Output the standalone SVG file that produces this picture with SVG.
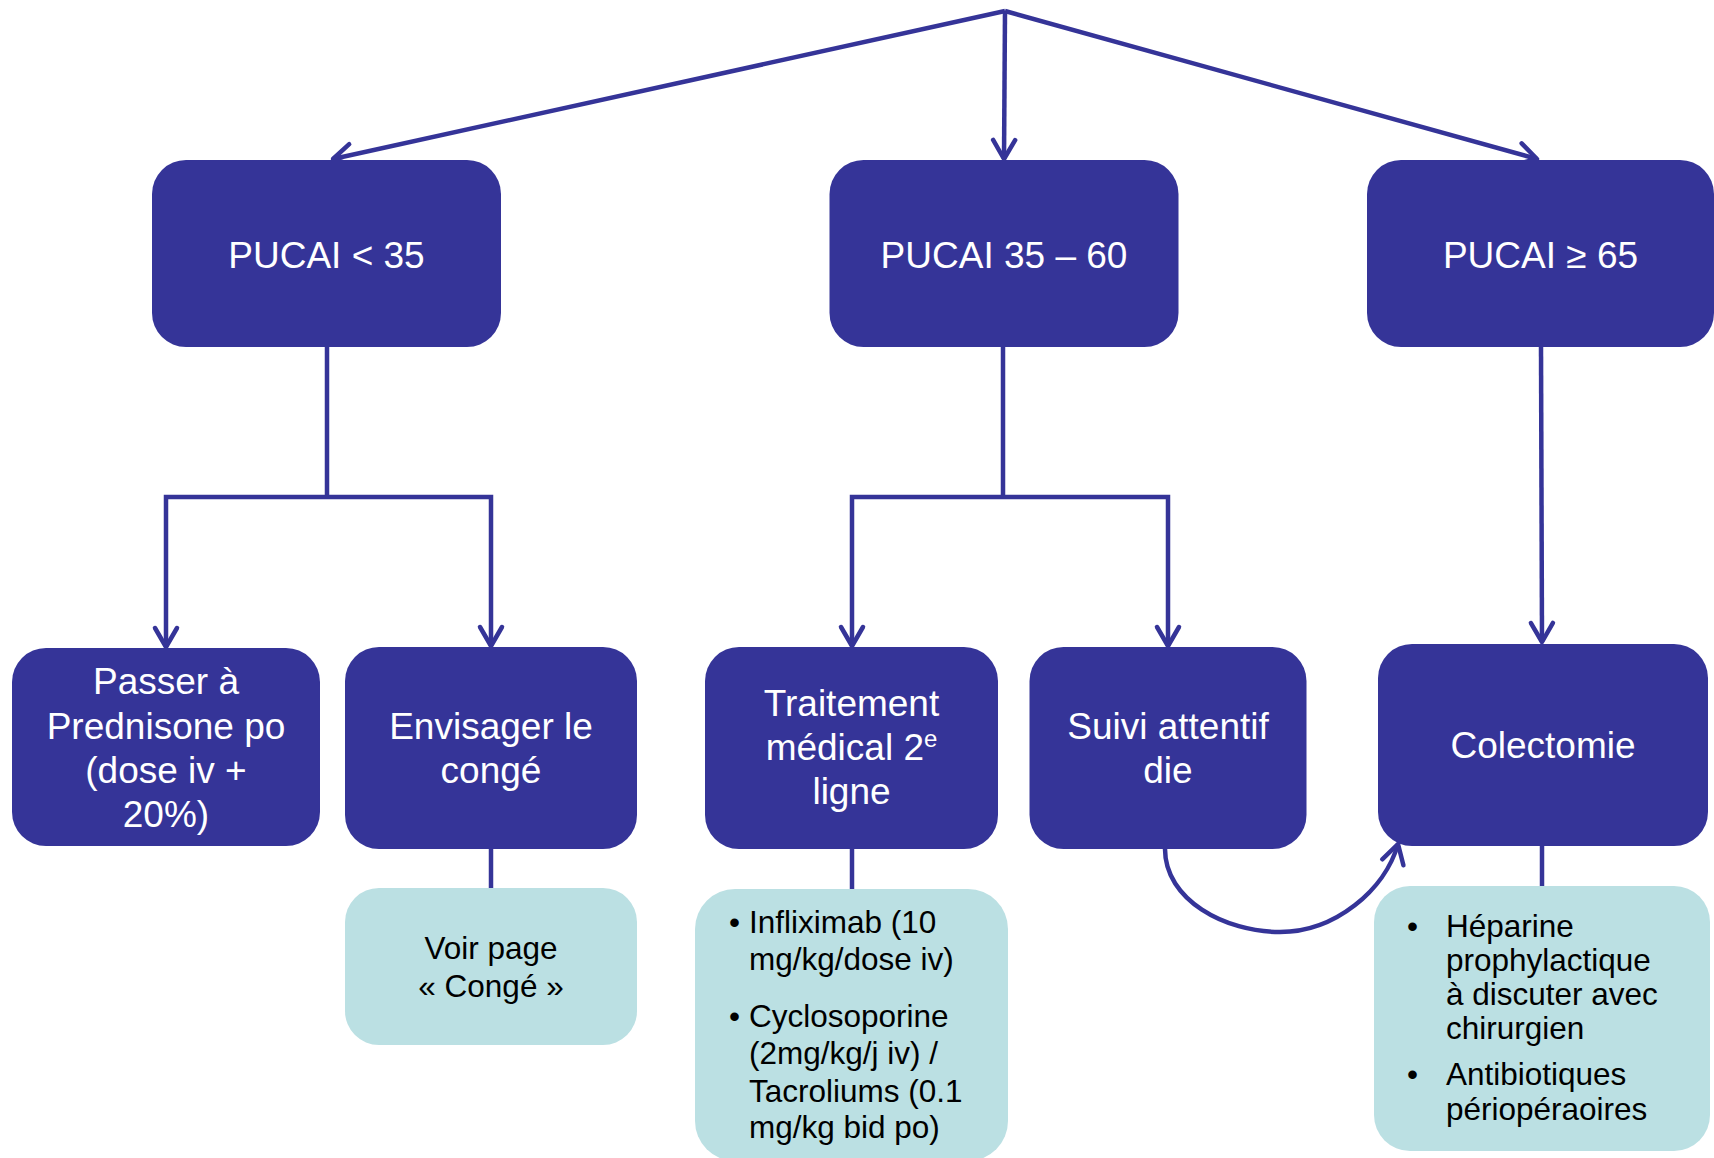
<svg xmlns="http://www.w3.org/2000/svg" width="1714" height="1158" viewBox="0 0 1714 1158">
  <style>
    .dark { fill: #353498; }
    .light { fill: #BBE0E3; }
    .wt { font-family: "Liberation Sans", Arial, sans-serif; font-size: 37px; fill: #ffffff; text-anchor: middle; }
    .bk { font-family: "Liberation Sans", Arial, sans-serif; font-size: 31.5px; fill: #000000; }
    .bkc { text-anchor: middle; }
    .link { fill: none; stroke: #353498; stroke-width: 4.5; }
    .arrow { marker-end: url(#chev); }
  </style>
  <defs>
    <marker id="chev" markerUnits="userSpaceOnUse" markerWidth="30" markerHeight="30" viewBox="-25 -15 30 30" refX="0" refY="0" orient="auto">
      <path d="M-19,-11 L0,0 L-19,11" fill="none" stroke="#353498" stroke-width="4.5" stroke-linecap="round" stroke-linejoin="round"/>
    </marker>
  </defs>

  <!-- connectors -->
  <g id="connectors">
    <line class="link arrow" x1="1005" y1="11" x2="333" y2="159"/>
    <line class="link arrow" x1="1005" y1="11" x2="1004" y2="159"/>
    <line class="link arrow" x1="1005" y1="11" x2="1537" y2="159"/>

    <polyline class="link" points="327,347 327,497"/>
    <polyline class="link arrow" points="327,497 166,497 166,647"/>
    <polyline class="link arrow" points="327,497 491,497 491,646"/>

    <polyline class="link" points="1003,347 1003,497"/>
    <polyline class="link arrow" points="1003,497 852,497 852,646"/>
    <polyline class="link arrow" points="1003,497 1168,497 1168,646"/>

    <line class="link arrow" x1="1541" y1="347" x2="1542" y2="642"/>

    <line class="link" x1="491" y1="849" x2="491" y2="888"/>
    <line class="link" x1="852" y1="849" x2="852" y2="889"/>
    <line class="link" x1="1542" y1="846" x2="1542" y2="886"/>

    <path class="link arrow" d="M1165,849 C1165,900 1225,932 1280,932 C1335,932 1385,890 1398,844"/>
  </g>

  <!-- severity level boxes -->
  <g id="pucai-low">
    <rect class="dark" x="152" y="160" width="349" height="187" rx="34"/>
    <text class="wt" x="326.5" y="268">PUCAI &lt; 35</text>
  </g>
  <g id="pucai-mid">
    <rect class="dark" x="829.5" y="160" width="349" height="187" rx="34"/>
    <text class="wt" x="1004" y="268">PUCAI 35 – 60</text>
  </g>
  <g id="pucai-high">
    <rect class="dark" x="1367" y="160" width="347" height="187" rx="34"/>
    <text class="wt" x="1540.5" y="268">PUCAI ≥ 65</text>
  </g>

  <!-- actions -->
  <g id="prednisone">
    <rect class="dark" x="12" y="648" width="308" height="198" rx="34"/>
    <text class="wt" x="166" y="694">Passer à</text>
    <text class="wt" x="166" y="739">Prednisone po</text>
    <text class="wt" x="166" y="783">(dose iv +</text>
    <text class="wt" x="166" y="827">20%)</text>
  </g>
  <g id="conge">
    <rect class="dark" x="345" y="647" width="292" height="202" rx="34"/>
    <text class="wt" x="491" y="739">Envisager le</text>
    <text class="wt" x="491" y="783">congé</text>
  </g>
  <g id="traitement">
    <rect class="dark" x="705" y="647" width="293" height="202" rx="34"/>
    <text class="wt" x="851.5" y="716">Traitement</text>
    <text class="wt" x="851.5" y="760">médical 2<tspan font-size="24" dy="-13">e</tspan></text>
    <text class="wt" x="851.5" y="804">ligne</text>
  </g>
  <g id="suivi">
    <rect class="dark" x="1029.5" y="647" width="277" height="202" rx="34"/>
    <text class="wt" x="1168" y="739">Suivi attentif</text>
    <text class="wt" x="1168" y="783">die</text>
  </g>
  <g id="colectomie">
    <rect class="dark" x="1378" y="644" width="330" height="202" rx="34"/>
    <text class="wt" x="1543" y="758">Colectomie</text>
  </g>

  <!-- details -->
  <g id="voir-conge">
    <rect class="light" x="345" y="888" width="292" height="157" rx="34"/>
    <text class="bk bkc" x="491" y="959">Voir page</text>
    <text class="bk bkc" x="491" y="997">« Congé »</text>
  </g>
  <g id="medicaments">
    <rect class="light" x="695" y="889" width="313" height="272" rx="40"/>
    <text class="bk" x="729" y="933">•</text>
    <text class="bk" x="749" y="933">Infliximab (10</text>
    <text class="bk" x="749" y="970">mg/kg/dose iv)</text>
    <text class="bk" x="729" y="1027">•</text>
    <text class="bk" x="749" y="1027">Cyclosoporine</text>
    <text class="bk" x="749" y="1064">(2mg/kg/j iv) /</text>
    <text class="bk" x="749" y="1102">Tacroliums (0.1</text>
    <text class="bk" x="749" y="1138">mg/kg bid po)</text>
  </g>
  <g id="chirurgie">
    <rect class="light" x="1374" y="886" width="336" height="265" rx="36"/>
    <text class="bk" x="1407" y="937">•</text>
    <text class="bk" x="1446" y="937">Héparine</text>
    <text class="bk" x="1446" y="971">prophylactique</text>
    <text class="bk" x="1446" y="1005">à discuter avec</text>
    <text class="bk" x="1446" y="1039">chirurgien</text>
    <text class="bk" x="1407" y="1085">•</text>
    <text class="bk" x="1446" y="1085">Antibiotiques</text>
    <text class="bk" x="1446" y="1120">périopéraoires</text>
  </g>
</svg>
